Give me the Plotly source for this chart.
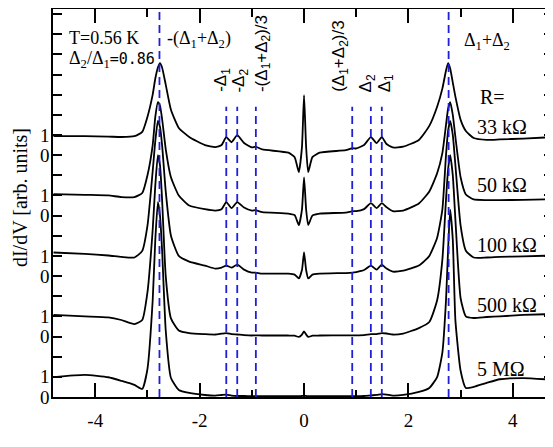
import plotly.graph_objects as go

# ---------------- data ----------------
V = [-4.8, -4.2, -3.75, -3.5, -3.25, -3.1, -3.0, -2.9, -2.85, -2.8, -2.76, -2.72, -2.65, -2.55,
     -2.4, -2.2, -1.9, -1.7, -1.58, -1.49, -1.39, -1.28, -1.15, -1.0, -0.93, -0.8, -0.3, -0.18,
     -0.1, -0.04, 0.0, 0.04, 0.08, 0.16, 0.3, 0.8, 0.93, 1.0, 1.15, 1.28, 1.39, 1.49, 1.58, 1.7,
     1.9, 2.2, 2.4, 2.55, 2.65, 2.72, 2.76, 2.8, 2.85, 2.9, 3.0, 3.1, 3.25, 3.5, 3.75, 4.2, 4.8]

g_33k = [0.94, 0.94, 0.92, 0.90, 0.94, 1.15, 1.90, 3.00, 3.80, 4.35, 4.56, 4.35, 3.50, 2.25,
         1.35, 0.90, 0.50, 0.40, 0.50, 0.89, 0.64, 0.99, 0.60, 0.38, 0.42, 0.28, 0.12, -0.10,
         -0.84, 0.40, 2.97, 0.40, -0.84, -0.10, 0.12, 0.25, 0.35, 0.33, 0.50, 0.89, 0.60, 0.89, 0.55, 0.38,
         0.42, 0.75, 1.45, 2.40, 3.30, 4.20, 4.56, 4.30, 3.60, 2.90, 1.75, 1.20, 0.85, 0.76, 0.78, 0.82, 0.90]

g_50k = [1.07, 1.03, 1.00, 0.92, 0.92, 1.12, 2.00, 3.50, 4.90, 5.63, 5.45, 4.80, 3.30, 1.90,
         1.00, 0.50, 0.32, 0.25, 0.32, 0.67, 0.37, 0.67, 0.40, 0.25, 0.27, 0.17, 0.10, 0.02,
         -0.47, 0.30, 1.90, 0.30, -0.47, 0.00, 0.10, 0.15, 0.22, 0.22, 0.32, 0.62, 0.37, 0.62, 0.42, 0.22,
         0.25, 0.60, 1.20, 2.10, 3.10, 4.50, 5.30, 5.63, 5.00, 3.90, 1.90, 1.05, 0.80, 0.77, 0.77, 0.78, 0.82]

g_100k = [1.17, 1.10, 1.02, 0.95, 0.92, 1.25, 2.50, 5.20, 6.70, 7.70, 7.40, 6.50, 4.20, 2.00,
          1.00, 0.72, 0.52, 0.37, 0.42, 0.52, 0.42, 0.57, 0.32, 0.17, 0.17, 0.12, 0.12, 0.07,
          -0.12, 0.30, 1.17, 0.30, -0.12, 0.07, 0.12, 0.15, 0.17, 0.20, 0.30, 0.52, 0.32, 0.57, 0.37, 0.22,
          0.27, 0.52, 1.00, 1.90, 3.30, 6.00, 7.20, 7.70, 7.00, 5.50, 2.50, 1.26, 0.92, 0.92, 0.95, 0.98, 1.02]

g_500k = [1.07, 1.00, 0.95, 0.82, 0.62, 0.82, 2.20, 5.30, 7.50, 9.00, 8.50, 6.80, 3.00, 0.90,
          0.30, 0.17, 0.12, 0.10, 0.14, 0.17, 0.12, 0.10, 0.07, 0.05, 0.06, 0.05, 0.05, 0.04,
          -0.02, 0.10, 0.25, 0.10, -0.02, 0.04, 0.05, 0.06, 0.06, 0.06, 0.07, 0.12, 0.12, 0.17, 0.15, 0.10,
          0.15, 0.42, 0.72, 1.80, 3.80, 6.80, 8.30, 9.00, 8.00, 5.80, 1.90, 1.00, 0.92, 0.97, 1.00, 1.07, 1.12]

g_5M = [0.99, 1.10, 0.98, 0.80, 0.60, 0.40, 1.40, 4.80, 7.80, 9.67, 9.00, 7.30, 3.30, 0.94,
        0.35, 0.20, 0.10, 0.07, 0.10, 0.12, 0.07, 0.05, 0.05, 0.04, 0.04, 0.04, 0.04, 0.04,
        0.04, 0.05, 0.06, 0.05, 0.04, 0.04, 0.04, 0.04, 0.04, 0.04, 0.05, 0.08, 0.10, 0.14, 0.12, 0.07,
        0.10, 0.25, 0.45, 0.99, 2.20, 4.80, 7.30, 9.30, 7.80, 3.80, 1.30, 0.45, 0.50, 0.70, 0.88, 0.94, 0.85]

curves = [g_33k, g_50k, g_100k, g_500k, g_5M]
R_labels = ["33 k\u03a9", "50 k\u03a9", "100 k\u03a9", "500 k\u03a9", "5 M\u03a9"]
offsets = [12, 9, 6, 3, 0]

D1 = 1.49   # mV
D2 = 1.28   # mV

x_ticks = [-4, -2, 0, 2, 4]
y_tickvals = list(range(0, 20))
y_ticktext = ["0" if v in offsets else ("1" if (v - 1) in offsets else "") for v in y_tickvals]

# ---------------- styling ----------------
SERIF = "Liberation Serif"
SANS = "Liberation Sans"
BLUE = "#1f1fd6"
X_RANGE = [-4.81, 4.77]
Y_RANGE = [0, 19.25]

fig = go.Figure()

for g, off, name in zip(curves, offsets, R_labels):
    fig.add_trace(go.Scatter(
        x=V, y=[v + off for v in g], mode="lines", name=name,
        line=dict(color="black", width=1.8, shape="spline", smoothing=0.5),
        showlegend=False, hoverinfo="skip"))

# dummy trace for the mirrored (top / right) axes
fig.add_trace(go.Scatter(x=[None], y=[None], xaxis="x2", yaxis="y2", mode="lines",
                         showlegend=False, hoverinfo="skip"))

# dashed marker lines
full_lines = [-(D1 + D2), D1 + D2]
inner_lines = [-D1, -D2, -(D1 + D2) / 3, (D1 + D2) / 3, D2, D1]
for xv in full_lines:
    fig.add_shape(type="line", xref="x", yref="paper", x0=xv, x1=xv, y0=0, y1=1,
                  line=dict(color=BLUE, width=1.8, dash="8px,5px"))
for xv in inner_lines:
    fig.add_shape(type="line", xref="x", yref="y", x0=xv, x1=xv, y0=0, y1=14.4,
                  line=dict(color=BLUE, width=1.8, dash="8px,5px"))

ann = []
def add(text, x, y, size, family=SERIF, xanchor="left", yanchor="middle", angle=0, xref="x", yref="y"):
    ann.append(dict(text=text, x=x, y=y, xref=xref, yref=yref, showarrow=False,
                    xanchor=xanchor, yanchor=yanchor, textangle=angle, borderpad=0,
                    font=dict(family=family, size=size, color="black")))

add("T=0.56 K", -4.53, 17.8, 18)
add("\u0394<sub>2</sub>/\u0394<sub>1</sub><span style='font-family:DejaVu Sans Mono;font-size:15px'>=0.86</span>",
    -4.53, 16.72, 18)
add("-(\u0394<sub>1</sub>+\u0394<sub>2</sub>)", -2.64, 17.75, 18)
add("\u0394<sub>1</sub>+\u0394<sub>2</sub>", 3.05, 17.65, 18)

# rotated labels above the inner dashed lines
add("-\u0394<sub>1</sub>", -1.56, 15.07, 17, family=SANS, xanchor="center", yanchor="bottom", angle=-90)
add("-\u0394<sub>2</sub>", -1.22, 15.07, 17, family=SANS, xanchor="center", yanchor="bottom", angle=-90)
add("-(\u0394<sub>1</sub>+\u0394<sub>2</sub>)/3", -0.80, 15.07, 17, family=SANS, xanchor="center", yanchor="bottom", angle=-90)
add("(\u0394<sub>1</sub>+\u0394<sub>2</sub>)/3", 0.69, 15.07, 17, family=SANS, xanchor="center", yanchor="bottom", angle=-90)
add("\u0394<sub>2</sub>", 1.21, 15.07, 17, family=SANS, xanchor="center", yanchor="bottom", angle=-90)
add("\u0394<sub>1</sub>", 1.57, 15.07, 17, family=SANS, xanchor="center", yanchor="bottom", angle=-90)

# resistance labels
add("R=", 3.35, 14.87, 20)
for lab, yv in zip(R_labels, [13.39, 10.51, 7.54, 4.56, 1.39]):
    add(lab, 3.29, yv, 20)

# axis titles
add("Tunneling Voltage V [mV]", 0.02, -2.5, 22, xanchor="center")
add("dI/dV [arb. units]", 0, 9.87, 20, xanchor="center", angle=-90, xref="paper")
ann[-1]["xshift"] = -33

# the page body has an 8 px margin, so the figure is 8 px smaller than the window
fig.update_layout(
    width=545, height=439,
    margin=dict(l=45, r=0, t=1, b=50, autoexpand=False),
    paper_bgcolor="white", plot_bgcolor="white",
    showlegend=False,
    annotations=ann,
    xaxis=dict(range=X_RANGE, showline=True, linecolor="black", linewidth=1.6, automargin=False,
               ticks="inside", ticklen=14, tickwidth=1.6, tickcolor="black",
               tickvals=x_ticks, ticktext=[str(t) for t in x_ticks],
               tickfont=dict(family=SERIF, size=19, color="black"),
               showgrid=False, zeroline=False, ticklabelstandoff=5,
               minor=dict(ticks="inside", ticklen=7, tickwidth=1.6, tickcolor="black",
                          dtick=1, tick0=0, showgrid=False)),
    xaxis2=dict(range=X_RANGE, overlaying="x", side="top", anchor="y", automargin=False,
                showline=True, linecolor="black", linewidth=1.6,
                ticks="inside", ticklen=14, tickwidth=1.6, tickcolor="black",
                dtick=2, tick0=0, showticklabels=False, showgrid=False, zeroline=False,
                minor=dict(ticks="inside", ticklen=8, tickwidth=1.6, tickcolor="black",
                           dtick=1, tick0=0, showgrid=False)),
    yaxis=dict(range=Y_RANGE, showline=True, linecolor="black", linewidth=1.6, automargin=False,
               ticks="inside", ticklen=9, tickwidth=1.6, tickcolor="black",
               tickvals=y_tickvals, ticktext=y_ticktext,
               tickfont=dict(family=SERIF, size=19, color="black"),
               showgrid=False, zeroline=False, ticklabelstandoff=-2),
    yaxis2=dict(range=Y_RANGE, overlaying="y", side="right", anchor="x", automargin=False,
                showline=False, ticks="inside", ticklen=9, tickwidth=1.6, tickcolor="black",
                tickvals=y_tickvals, showticklabels=False, showgrid=False, zeroline=False),
)

fig.write_html("out.html")
